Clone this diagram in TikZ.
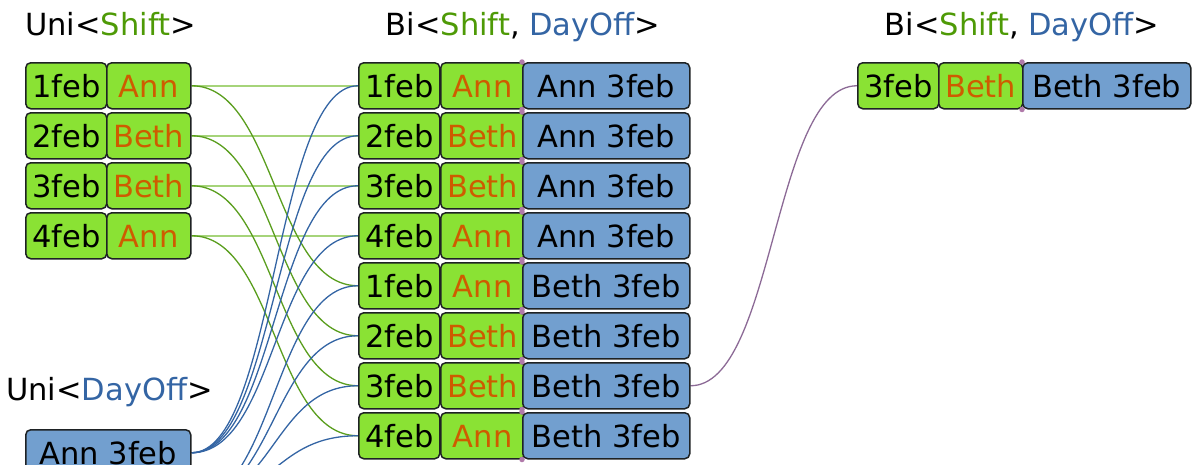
\documentclass[tikz,border=0pt]{standalone}
\usepackage{fontspec}
\setmainfont{DejaVu Sans}
\usetikzlibrary{backgrounds}
\definecolor{gfill}{HTML}{8AE234}
\definecolor{bfill}{HTML}{729FCF}
\definecolor{bord}{HTML}{1E2224}
\definecolor{orng}{HTML}{CE5C00}
\definecolor{tgreen}{HTML}{4E9A06}
\definecolor{tblue}{HTML}{3465A4}
\definecolor{gline}{HTML}{5A9E1E}
\definecolor{glight}{HTML}{A6D47A}
\definecolor{bline}{HTML}{3465A4}
\definecolor{pline}{HTML}{8C6A96}
\definecolor{pdot}{HTML}{B07AAA}
\tikzset{
  cell/.style={draw=bord, line width=1.5pt, rounded corners=5pt, anchor=north west,
    minimum height=46pt, inner sep=0pt, text height=23pt, text depth=0pt,
    font=\fontsize{30.5}{36}\selectfont},
  datebox/.style={cell, fill=gfill, minimum width=81pt},
  namebox/.style={cell, fill=gfill, minimum width=84pt, text=orng},
  dayoffbox/.style={cell, fill=bfill, minimum width=167pt},
  unibox/.style={cell, fill=bfill, minimum width=165pt},
  title/.style={inner sep=0pt, font=\fontsize{30.5}{36}\selectfont},
  glinestyle/.style={draw=gline, line width=1.3pt},
  gstraight/.style={draw=glight, line width=2.4pt},
  blinestyle/.style={draw=bline, line width=1.3pt},
  plinestyle/.style={draw=pline, line width=1.3pt},
  jdot/.style={fill=pdot, circle, inner sep=0pt, minimum size=5.5pt}
}
\begin{document}
\begin{tikzpicture}[x=1pt, y=-1pt]
\useasboundingbox (0,0) rectangle (1192,464);
\clip (0,0) rectangle (1192,464);
% titles
\node[title, anchor=base west] (t1) at (25,35) {Uni\textless\textcolor{tgreen}{Shift}\textgreater};
\node[title, anchor=base] (t2) at (523,35) {Bi\textless\textcolor{tgreen}{Shift}, \textcolor{tblue}{DayOff}\textgreater};
\node[title, anchor=base] (t3) at (1022,35) {Bi\textless\textcolor{tgreen}{Shift}, \textcolor{tblue}{DayOff}\textgreater};
\node[title, anchor=base west] (t4) at (6,400) {Uni\textless\textcolor{tblue}{DayOff}\textgreater};
% Uni<Shift>
\foreach \i/\d/\n in {1/1feb/Ann, 2/2feb/Beth, 3/3feb/Beth, 4/4feb/Ann}{
  \node[datebox] (u\i d) at (25,{62+50*(\i-1)}) {\d};
  \node[namebox] (u\i n) at (106,{62+50*(\i-1)}) {\n};
}
% Uni<DayOff>
\node[unibox] (da) at (25,429) {Ann 3feb};
\coordinate (db) at (190,502);
% Bi<Shift, DayOff>
\foreach \i/\d/\n/\o in {1/1feb/Ann/Ann, 2/2feb/Beth/Ann, 3/3feb/Beth/Ann, 4/4feb/Ann/Ann,
                         5/1feb/Ann/Beth, 6/2feb/Beth/Beth, 7/3feb/Beth/Beth, 8/4feb/Ann/Beth}{
  \node[datebox] (m\i d) at (358,{62+50*(\i-1)}) {\d};
  \node[namebox] (m\i n) at (440,{62+50*(\i-1)}) {\n};
  \node[dayoffbox] (m\i o) at (522,{62+50*(\i-1)}) {\o\ 3feb};
}
\foreach \i in {1,...,8}{
  \node[jdot] at (m\i o.north west) {};
  \node[jdot] at (m\i o.south west) {};
}
% filtered result
\node[datebox] (rd) at (857,62) {3feb};
\node[namebox] (rn) at (938,62) {Beth};
\node[dayoffbox, minimum width=168pt] (ro) at (1022,62) {Beth 3feb};
\node[jdot] at (ro.north west) {};
\node[jdot] at (ro.south west) {};
% connectors
\begin{scope}[on background layer]
\foreach \i in {1,2,3,4}{
  \draw[gstraight] (u\i n.east) -- (m\i d.west);
}
\foreach \i/\j in {1/5,2/6,3/7,4/8}{
  \draw[glinestyle] (u\i n.east) .. controls +(84,0) and +(-84,0) .. (m\j d.west);
}
\foreach \i in {1,2,3,4}{
  \draw[blinestyle] (da.east) .. controls +(84,0) and +(-84,0) .. (m\i d.west);
}
\foreach \i in {5,6,7,8}{
  \draw[blinestyle] (db) .. controls +(84,0) and +(-84,0) .. (m\i d.west);
}
\draw[plinestyle] (m7o.east) .. controls +(84,0) and +(-84,0) .. (rd.west);
\end{scope}
\end{tikzpicture}
\end{document}
